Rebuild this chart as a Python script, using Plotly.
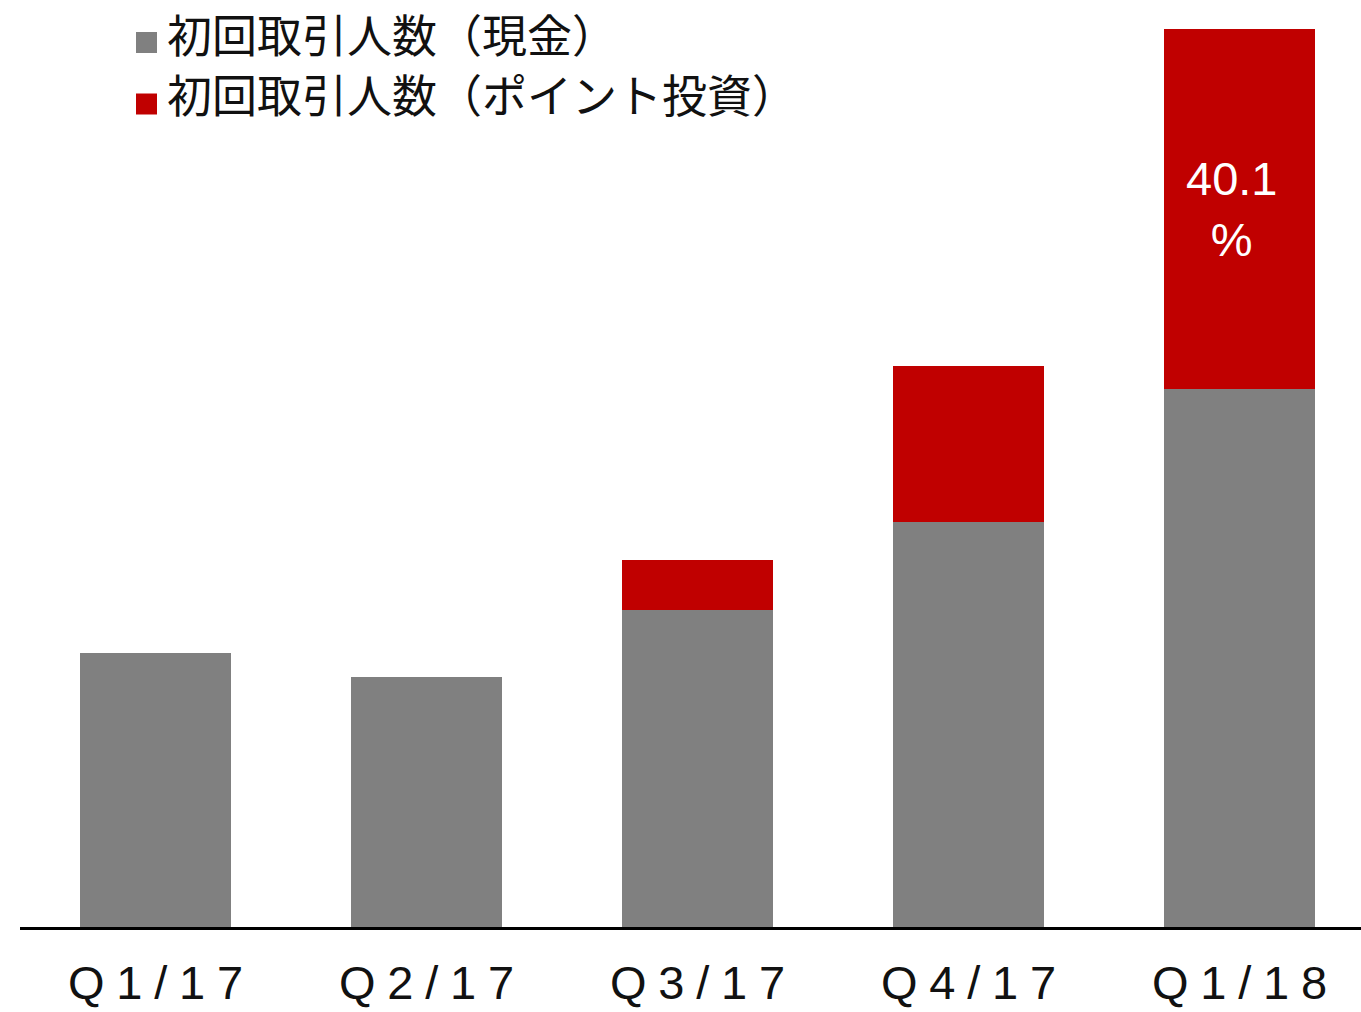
import plotly.graph_objects as go

# Data (arbitrary units)
categories = ["Q1/17", "Q2/17", "Q3/17", "Q4/17", "Q1/18"]
cash_users = [274, 250, 317, 405, 538]
point_users = [0, 0, 50, 156, 360]
series_names = ["初回取引人数（現金）", "初回取引人数（ポイント投資）"]
labelled_index = [4]

GRAY = "#808080"
RED = "#C00000"

# tick labels with slight letter spacing
tick_text = ["\u200a\u200a\u200a".join(list(c)) for c in categories]

W, H = 1361, 1012
ml, mr, mt, mb = 20, 0, 0, 85
pw, ph = W - ml - mr, H - mt - mb

fig = go.Figure()
fig.add_trace(go.Bar(x=categories, y=cash_users, name=series_names[0],
                     marker=dict(color=GRAY, line=dict(width=0)),
                     showlegend=False))
fig.add_trace(go.Bar(x=categories, y=point_users, name=series_names[1],
                     marker=dict(color=RED, line=dict(width=0)),
                     showlegend=False))

annotations = []
# share label in the middle of the red segment
for i in labelled_index:
    c, p = cash_users[i], point_users[i]
    annotations.append(dict(x=categories[i], y=c + p / 2, xref="x", yref="y",
                            text=f"{100 * p / (c + p):.1f}<br>%", showarrow=False,
                            xanchor="center", yanchor="middle", xshift=-8, yshift=0,
                            font=dict(family="Liberation Sans, Arial", size=47, color="white")))

# Legend drawn as squares + text (paper coordinates, px -> paper)
def px_x(x):
    return (x - ml) / pw

def px_y(y):
    return (H - mb - y) / ph

shapes = []
legend_rows = [(series_names[0], GRAY, 42.5, 33), (series_names[1], RED, 104, 93)]
for name, col, sq_cy, txt_cy in legend_rows:
    shapes.append(dict(type="rect", xref="paper", yref="paper",
                       x0=px_x(136), x1=px_x(157), y0=px_y(sq_cy + 10.5), y1=px_y(sq_cy - 10.5),
                       fillcolor=col, line=dict(width=0)))
    annotations.append(dict(xref="paper", yref="paper", x=px_x(165), y=px_y(txt_cy),
                            xanchor="left", yanchor="middle", showarrow=False,
                            text=name,
                            font=dict(family="Noto Sans CJK JP", size=45, color="#111111")))

fig.update_layout(
    width=W, height=H,
    margin=dict(l=ml, r=mr, t=mt, b=mb, autoexpand=False),
    barmode="stack",
    bargap=0.443,
    plot_bgcolor="white",
    paper_bgcolor="white",
    shapes=shapes,
    annotations=annotations,
)
fig.update_xaxes(range=[-0.5, 4.448], showline=True, linecolor="black", linewidth=3,
                 tickmode="array", tickvals=categories, ticktext=tick_text,
                 ticks="", showgrid=False, zeroline=False, ticklabelstandoff=13,
                 automargin=False,
                 tickfont=dict(family="Liberation Sans, Arial", size=47, color="#111111"))
fig.update_yaxes(range=[0, ph], visible=False, showgrid=False, zeroline=False, automargin=False)

# remove the browser's default body margin so the figure fills the window exactly
fig.write_html("out.html", config={"displayModeBar": False},
               post_script="document.body.style.margin='0';document.body.style.overflow='hidden';")
